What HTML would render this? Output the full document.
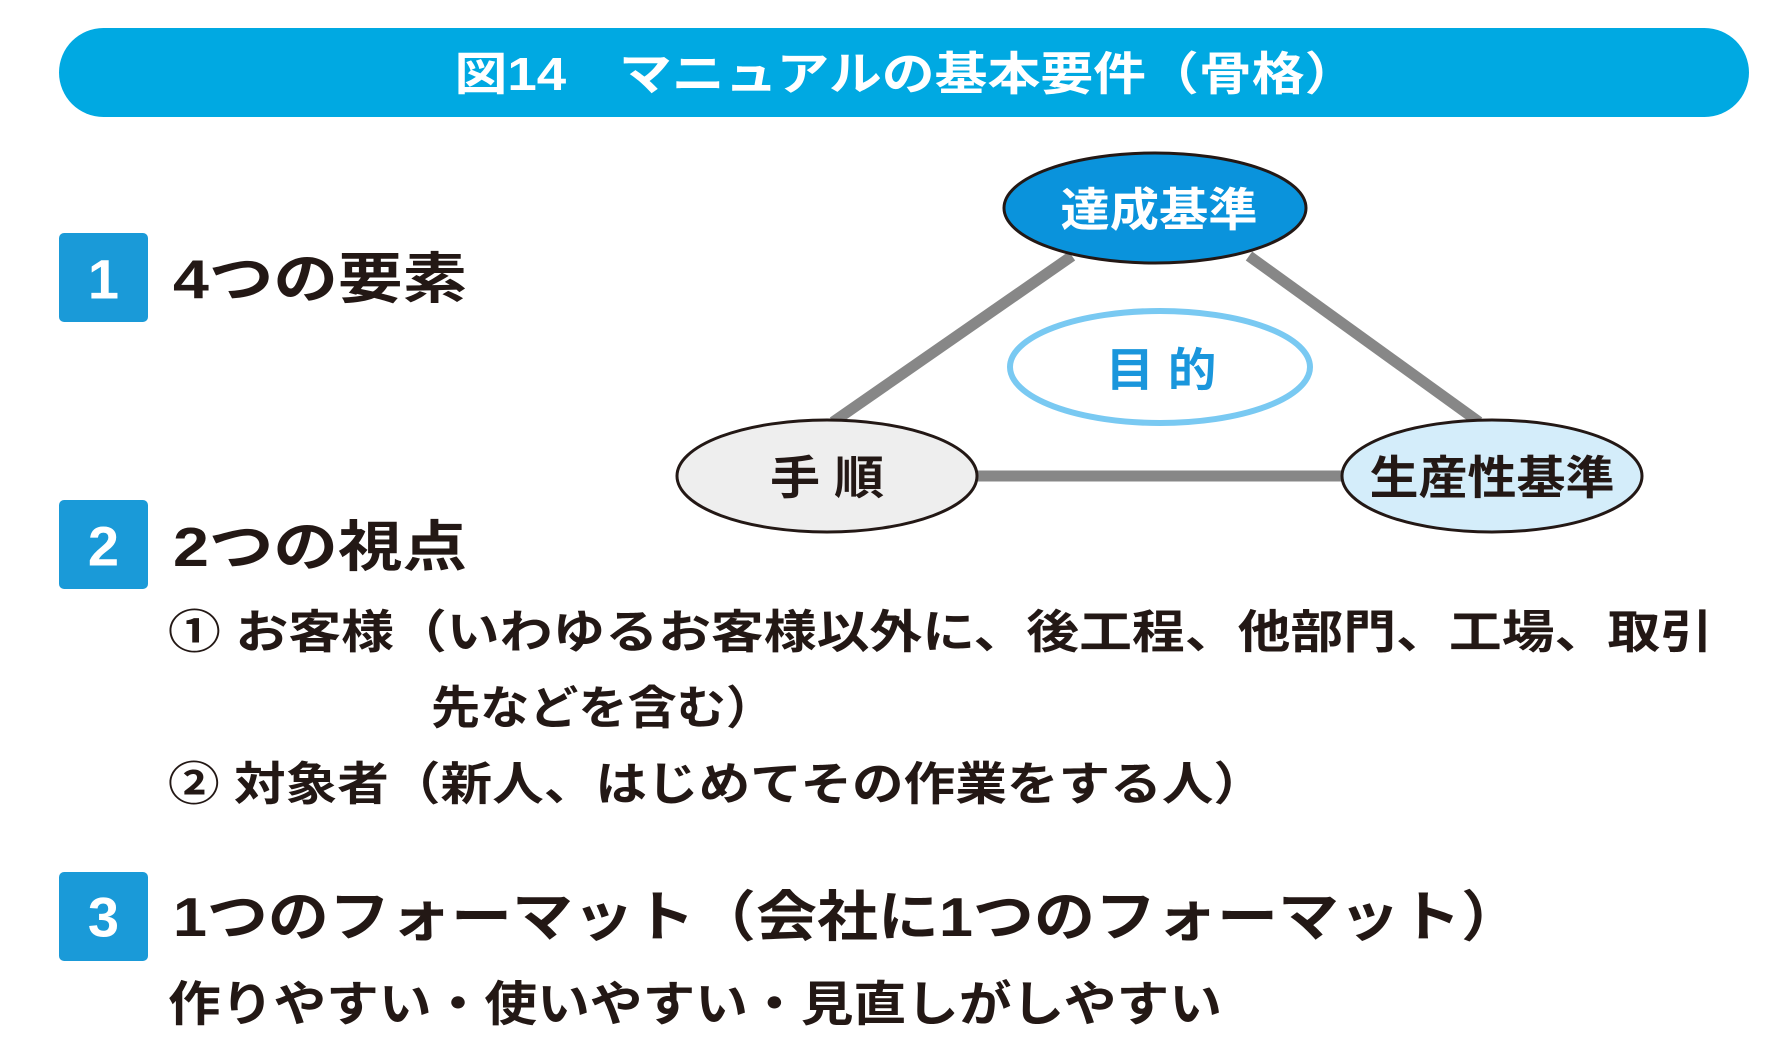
<!DOCTYPE html>
<html><head><meta charset="utf-8"><style>
html,body{margin:0;padding:0;background:#fff;}
svg{display:block;}
text{font-family:"Liberation Sans","Noto Sans CJK JP",sans-serif;font-weight:bold;}
</style></head><body>
<svg width="1778" height="1040" viewBox="0 0 1778 1040" xmlns="http://www.w3.org/2000/svg">
<rect x="59" y="28" width="1690" height="89" rx="44.5" fill="#00a9e2"/>
<text x="906" y="74" dominant-baseline="central" text-anchor="middle" fill="#fff" font-size="46" textLength="903" lengthAdjust="spacingAndGlyphs">図14　マニュアルの基本要件（骨格）</text>

<rect x="59" y="233" width="89" height="89" rx="5" fill="#1a9ad8"/>
<text x="103.5" y="279" dominant-baseline="central" text-anchor="middle" fill="#fff" font-size="56">1</text>
<text x="173" y="279" dominant-baseline="central" fill="#231815" font-size="55" textLength="294" lengthAdjust="spacingAndGlyphs">4つの要素</text>

<rect x="59" y="500" width="89" height="89" rx="5" fill="#1a9ad8"/>
<text x="103.5" y="546" dominant-baseline="central" text-anchor="middle" fill="#fff" font-size="56">2</text>
<text x="173" y="547" dominant-baseline="central" fill="#231815" font-size="55" textLength="294" lengthAdjust="spacingAndGlyphs">2つの視点</text>

<text x="168" y="632" dominant-baseline="central" fill="#231815" font-size="46" font-weight="normal" textLength="1545" lengthAdjust="spacingAndGlyphs">① お客様（いわゆるお客様以外に、後工程、他部門、工場、取引</text>
<text x="431" y="708" dominant-baseline="central" fill="#231815" font-size="46" font-weight="normal" textLength="344" lengthAdjust="spacingAndGlyphs">先などを含む）</text>
<text x="168" y="784" dominant-baseline="central" fill="#231815" font-size="46" font-weight="normal" textLength="1097" lengthAdjust="spacingAndGlyphs">② 対象者（新人、はじめてその作業をする人）</text>

<rect x="59" y="872" width="89" height="89" rx="5" fill="#1a9ad8"/>
<text x="103.5" y="917" dominant-baseline="central" text-anchor="middle" fill="#fff" font-size="56">3</text>
<text x="173" y="917" dominant-baseline="central" fill="#231815" font-size="55" textLength="1349" lengthAdjust="spacingAndGlyphs">1つのフォーマット（会社に1つのフォーマット）</text>
<text x="168" y="1005" dominant-baseline="central" fill="#231815" font-size="48" font-weight="normal" textLength="1054" lengthAdjust="spacingAndGlyphs">作りやすい・使いやすい・見直しがしやすい</text>

<g transform="translate(-5,0)">
<g stroke="#878787" stroke-width="11">
<line x1="1077" y1="256" x2="838" y2="422"/>
<line x1="1254" y1="256" x2="1484" y2="422"/>
<line x1="983" y1="476" x2="1350" y2="476"/>
</g>
<ellipse cx="1160" cy="208" rx="151" ry="55" fill="#0a93dc" stroke="#231815" stroke-width="3"/>
<text x="1164" y="210" dominant-baseline="central" text-anchor="middle" fill="#fff" font-size="46" textLength="197" lengthAdjust="spacingAndGlyphs">達成基準</text>
<ellipse cx="1165" cy="367" rx="150" ry="56" fill="#fff" stroke="#79c9f2" stroke-width="6"/>
<text x="1166" y="370" dominant-baseline="central" text-anchor="middle" fill="#1a96dc" font-size="46" textLength="111" lengthAdjust="spacingAndGlyphs">目 的</text>
<ellipse cx="832" cy="476" rx="150" ry="56" fill="#eeeeee" stroke="#231815" stroke-width="3"/>
<text x="832" y="478" dominant-baseline="central" text-anchor="middle" fill="#231815" font-size="46" textLength="114" lengthAdjust="spacingAndGlyphs">手 順</text>
<ellipse cx="1497" cy="476" rx="150" ry="56" fill="#d4edfa" stroke="#231815" stroke-width="3"/>
<text x="1497" y="478" dominant-baseline="central" text-anchor="middle" fill="#231815" font-size="46" textLength="245" lengthAdjust="spacingAndGlyphs">生産性基準</text>
</g>
</svg>
</body></html>
